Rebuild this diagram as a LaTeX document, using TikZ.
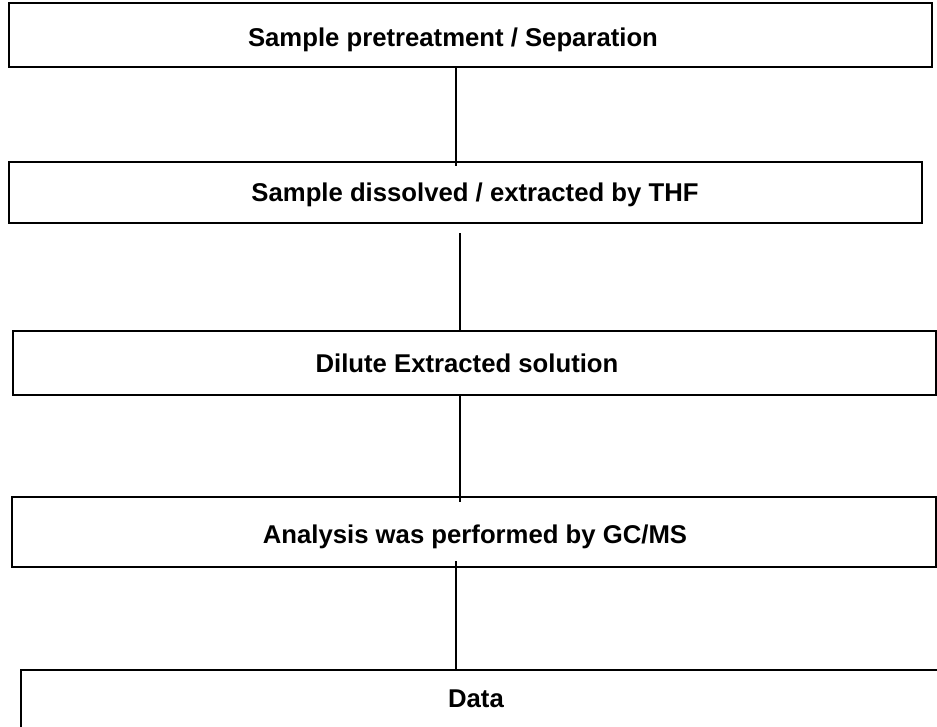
\documentclass[tikz,border=0pt]{standalone}
\usepackage{fontspec}
\setmainfont{Liberation Sans}

\begin{document}
\begin{tikzpicture}[x=1pt,y=-1pt,
        box/.style={draw,line width=2.2pt,rectangle,inner sep=0pt},
        steptext/.style={font=\fontsize{25.7}{30}\selectfont\bfseries,anchor=base,inner sep=0pt},
        link/.style={line width=2pt}]
            \useasboundingbox (0,0) rectangle (937,727);
            \clip (0,0) rectangle (937,727);
            \node[box,minimum width=923pt,minimum height=64pt] (b1) at (470.5,35) {};
            \node[box,minimum width=913pt,minimum height=61pt] (b2) at (465.5,192.5) {};
            \node[box,minimum width=923pt,minimum height=64pt] (b3) at (474.5,363) {};
            \node[box,minimum width=924pt,minimum height=70pt] (b4) at (474,532) {};
            \node[box,minimum width=939pt,minimum height=110pt] (b5) at (490.5,725) {};
            \node[steptext] (t1) at (453,47) {Sample pretreatment / Separation};
            \node[steptext] (t2) at (475,202) {Sample dissolved / extracted by THF};
            \node[steptext] (t3) at (467,372) {Dilute Extracted solution};
            \node[steptext] (t4) at (475,543) {Analysis was performed by GC/MS};
            \node[steptext] (t5) at (476,707) {Data};
            \draw[link] ([xshift=-14.5pt]b1.south) -- ([xshift=-9.5pt,yshift=-5pt]b2.north);
            \draw[link] ([xshift=-5.5pt,yshift=-9pt]b2.south) -- ([xshift=-14.5pt]b3.north);
            \draw[link] ([xshift=-14.5pt]b3.south) -- ([xshift=-14pt,yshift=-6pt]b4.north);
            \draw[link] ([xshift=-18pt,yshift=7pt]b4.south) -- ([xshift=-34.5pt]b5.north);
        \end{tikzpicture}
\end{document}
